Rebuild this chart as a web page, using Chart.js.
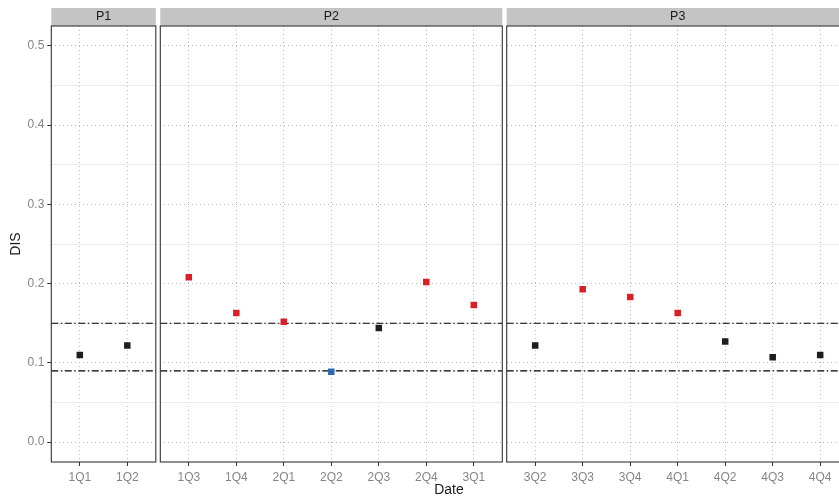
<!DOCTYPE html>
<html>
<head>
<meta charset="utf-8">
<script src="https://cdn.jsdelivr.net/npm/chart.js@4/dist/chart.umd.min.js"></script>
<style>
  html, body { margin: 0; padding: 0; background: #fff; overflow: hidden; }
  #wrap { position: relative; width: 860px; height: 498px; }
  #wrap canvas { position: absolute; left: 0; top: 0; }
  #xtitle {
    position: absolute; left: 349px; width: 200px; top: 481px;
    text-align: center; font: 14px "Liberation Sans", Arial, sans-serif; color: #1a1a1a;
  }
</style>
</head>
<body>
<div id="wrap">
  <canvas id="p1" width="860" height="498"></canvas>
  <canvas id="p2" width="860" height="498"></canvas>
  <canvas id="p3" width="860" height="498"></canvas>
  <div id="xtitle">Date</div>
</div>
<script>
const panelNames = ["P1", "P2", "P3"];
const datesP1 = ["1Q1", "1Q2"];
const disP1 = [0.110, 0.122];
const datesP2 = ["1Q3", "1Q4", "2Q1", "2Q2", "2Q3", "2Q4", "3Q1"];
const disP2 = [0.208, 0.163, 0.152, 0.089, 0.144, 0.202, 0.173];
const datesP3 = ["3Q2", "3Q3", "3Q4", "4Q1", "4Q2", "4Q3", "4Q4"];
const disP3 = [0.122, 0.193, 0.183, 0.163, 0.127, 0.107, 0.110];
const yTicks = [0, 0.1, 0.2, 0.3, 0.4, 0.5];
const yMinorTicks = [0.05, 0.15, 0.25, 0.35, 0.45];
const limits = [0.09, 0.15];

const FONT = "'Liberation Sans', Arial, sans-serif";
const CANVAS_W = 860;
const UNIT = 47.5; // pixels per date slot

function pointColor(v) {
  if (v > limits[1]) return "#dc1e26";
  if (v < limits[0]) return "#2c69b0";
  return "#1f1c1d";
}

// strip on top, frame around the panel, dot-dash limit lines under the points
const facetPlugin = {
  id: "facet",
  beforeDatasetsDraw(chart) {
    const { ctx, chartArea: a, scales } = chart;
    ctx.save();
    ctx.strokeStyle = "#000";
    ctx.lineWidth = 1.1;
    ctx.setLineDash([7, 2.5, 1.5, 2.5]);
    limits.forEach(v => {
      const y = scales.y.getPixelForValue(v);
      ctx.beginPath();
      ctx.moveTo(a.left, y);
      ctx.lineTo(a.right, y);
      ctx.stroke();
    });
    ctx.restore();
  },
  afterDraw(chart, args, opts) {
    const { ctx, chartArea: a } = chart;
    ctx.save();
    ctx.fillStyle = "#c4c4c4";
    ctx.fillRect(a.left, a.top - 18, a.right - a.left, 18);
    ctx.fillStyle = "#1a1a1a";
    ctx.font = "12.5px " + FONT;
    ctx.textAlign = "center";
    ctx.textBaseline = "middle";
    ctx.fillText(opts.label, (a.left + a.right) / 2, a.top - 9);
    ctx.strokeStyle = "#333";
    ctx.lineWidth = 1.1;
    ctx.strokeRect(a.left, a.top, a.right - a.left, a.bottom - a.top);
    ctx.restore();
  }
};

function makePanel(id, name, dates, values, left, showY) {
  const width = dates.length * UNIT + 0.2 * UNIT;
  const axisW = showY ? left : 0;
  new Chart(document.getElementById(id), {
    type: "scatter",
    data: {
      datasets: [{
        data: values.map((v, i) => ({ x: i, y: v })),
        pointStyle: "rect",
        pointRadius: 4.6,
        borderWidth: 0,
        backgroundColor: ctx => pointColor(ctx.raw.y)
      }]
    },
    plugins: [facetPlugin],
    options: {
      responsive: false,
      animation: false,
      layout: {
        padding: { left: showY ? 0 : left, right: CANVAS_W - left - width, top: 26, bottom: 0 }
      },
      plugins: {
        legend: { display: false },
        tooltip: { enabled: false },
        facet: { label: name }
      },
      scales: {
        x: {
          type: "linear",
          min: -0.6,
          max: dates.length - 0.4,
          afterBuildTicks: s => { s.ticks = dates.map((d, i) => ({ value: i })); },
          afterFit: s => { s.height = 36; },
          ticks: {
            autoSkip: false,
            maxRotation: 0,
            padding: 4,
            color: "#858585",
            font: { family: FONT, size: 12 },
            callback: v => dates[v]
          },
          grid: {
            color: "#bdbdbd",
            tickColor: "#333",
            tickLength: 4,
            tickBorderDash: [],
            lineWidth: 1
          },
          border: { display: false, dash: [1, 3] }
        },
        yMinor: {
          type: "linear",
          position: "left",
          min: -0.025,
          max: 0.525,
          afterBuildTicks: s => { s.ticks = yMinorTicks.map(v => ({ value: v })); },
          afterFit: s => { s.width = 0; },
          ticks: { display: false },
          grid: { color: "#ebebeb", drawTicks: false },
          border: { display: false }
        },
        y: {
          type: "linear",
          position: "left",
          min: -0.025,
          max: 0.525,
          afterBuildTicks: s => { s.ticks = yTicks.map(v => ({ value: v })); },
          afterFit: s => { s.width = axisW; },
          title: {
            display: showY,
            text: "DIS",
            color: "#1a1a1a",
            font: { family: FONT, size: 14 },
            padding: { top: 8, bottom: 0 }
          },
          ticks: {
            display: showY,
            padding: 3,
            color: "#858585",
            font: { family: FONT, size: 12 },
            callback: v => v.toFixed(1)
          },
          grid: {
            color: "#bdbdbd",
            drawTicks: showY,
            tickColor: "#333",
            tickLength: 4,
            tickBorderDash: [],
            lineWidth: 1
          },
          border: { display: false, dash: [1, 3] }
        }
      }
    }
  });
}

makePanel("p1", panelNames[0], datesP1, disP1, 51.3, true);
makePanel("p2", panelNames[1], datesP2, disP2, 160.3, false);
makePanel("p3", panelNames[2], datesP3, disP3, 506.7, false);
</script>
</body>
</html>
